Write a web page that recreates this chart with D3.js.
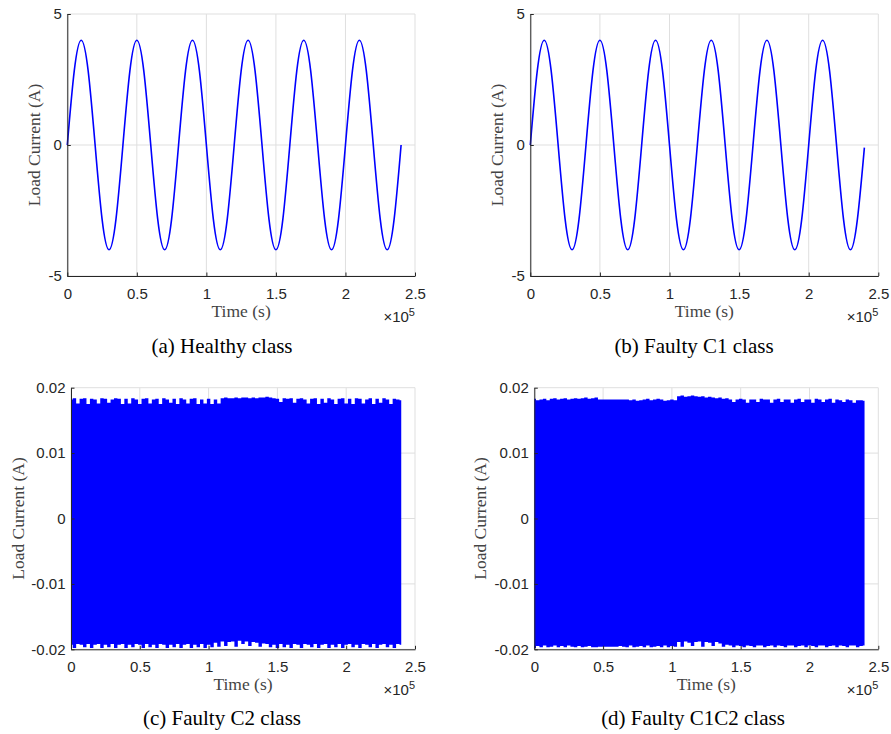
<!DOCTYPE html>
<html>
<head>
<meta charset="utf-8">
<script src="https://cdn.jsdelivr.net/npm/d3@7"></script>
<style>
  body { margin: 0; background: #fff; }
  svg { display: block; }
  .tick text { font-family: "Liberation Sans", Arial, sans-serif; font-size: 15px; fill: #262626; }
  .lbl { font-family: "Liberation Serif", "Times New Roman", serif; font-size: 17.5px; fill: #444; }
  .cap { font-family: "Liberation Serif", "Times New Roman", serif; font-size: 21px; fill: #000; }
</style>
</head>
<body>
<div id="chart"></div>
<script>
// shared axes
const xTicks = [0, 50000, 100000, 150000, 200000, 250000];
const xTickLabels = ["0", "0.5", "1", "1.5", "2", "2.5"];
const yTicksSine = [-5, 0, 5];
const yTickLabelsSine = ["-5", "0", "5"];
const yTicksBand = [-0.02, -0.01, 0, 0.01, 0.02];
const yTickLabelsBand = ["-0.02", "-0.01", "0", "0.01", "0.02"];

// (a), (b): load current sampled every 5000 s
const sineStep = 5000;
const healthy = [0, 2.83, 4, 2.83, 0, -2.83, -4, -2.83,
                 0, 2.83, 4, 2.83, 0, -2.83, -4, -2.83,
                 0, 2.83, 4, 2.83, 0, -2.83, -4, -2.83,
                 0, 2.83, 4, 2.83, 0, -2.83, -4, -2.83,
                 0, 2.83, 4, 2.83, 0, -2.83, -4, -2.83,
                 0, 2.83, 4, 2.83, 0, -2.83, -4, -2.83, 0];
const faultyC1 = [0, 2.83, 4, 2.83, 0, -2.83, -4, -2.83,
                  0, 2.83, 4, 2.83, 0, -2.83, -4, -2.83,
                  0, 2.83, 4, 2.83, 0, -2.83, -4, -2.83,
                  0, 2.83, 4, 2.83, 0, -2.83, -4, -2.83,
                  0, 2.83, 4, 2.83, 0, -2.83, -4, -2.83,
                  0, 2.83, 4, 2.83, 0, -2.83, -4, -2.83, -0.1];

// (c), (d): fast oscillation, upper / lower envelope (mA) every 2500 s
const envStep = 2500;
const c2Upper = [18.2,18.4,17.6,18.3,18.4,17.5,18.3,18.2,17.6,18.4,
  18.3,17.7,18.2,18.4,18.3,17.5,18.3,17.6,18.4,18.2,
  17.5,18.3,18.4,17.6,18.2,18.3,17.5,18.4,18.2,17.7,
  18.3,17.5,18.4,18.2,17.6,18.3,18.4,17.5,18.2,17.6,
  18.3,17.5,18.2,17.6,
  18.4,18.5,18.4,18.4,18.5,18.4,18.5,18.5,18.4,18.5,18.4,18.5,18.5,18.6,18.5,
  18.4,18.3,17.8,18.4,18.3,18.4,17.7,18.3,18.4,18.2,
  17.6,18.3,18.4,17.5,18.3,17.7,18.4,18.2,17.5,18.3,
  18.4,17.6,18.3,17.5,18.4,18.3,17.6,18.2,18.4,17.5,
  18.3,17.7,18.4,18.2,17.5,18.3,18.2,18.1];
const c2Lower = [-19.3,-19.8,-19.2,-19.3,-19.7,-19.2,-19.8,-19.3,-19.2,-19.8,
  -19.3,-19.7,-19.2,-19.8,-19.3,-19.2,-19.8,-19.3,-19.7,-19.2,
  -19.3,-19.8,-19.2,-19.7,-19.3,-19.8,-19.2,-19.3,-19.8,-19.3,
  -19.7,-19.2,-19.8,-19.3,-19.2,-19.8,-19.3,-19.7,-19.2,-19.8,
  -19.3,-19.7,-19.0,-19.6,
  -18.8,-19.5,-18.9,-18.8,-19.6,-18.7,-19.2,-18.8,-19.5,-18.9,-19.0,-19.6,-19.1,-19.2,-19.7,
  -19.3,-19.8,-19.2,-19.7,-19.3,-19.8,-19.2,-19.3,-19.8,-19.2,
  -19.3,-19.7,-19.2,-19.8,-19.3,-19.2,-19.8,-19.3,-19.7,-19.2,
  -19.8,-19.3,-19.2,-19.7,-19.3,-19.8,-19.2,-19.3,-19.7,-19.2,
  -19.8,-19.3,-19.2,-19.7,-19.3,-19.8,-19.2,-19.3];
const c1c2Upper = [18.3,18.1,18.2,18.3,18.1,18.3,18.4,18.2,18.3,18.4,
  18.2,18.3,18.4,18.3,18.4,18.5,18.3,18.4,
  18.5,18.2,18.2,18.2,18.2,18.2,18.2,18.2,18.2,18.2,18.1,
  18.2,18.0,18.1,18.2,18.3,18.1,18.2,18.3,18.2,18.0,18.1,18.2,18.1,
  18.7,18.8,18.6,18.7,18.8,18.7,18.6,18.7,18.5,18.6,18.5,18.4,18.5,18.3,18.4,
  18.2,17.8,18.2,18.3,18.2,17.7,18.2,18.2,17.8,18.3,
  18.2,18.2,17.7,18.2,18.3,17.8,18.2,18.2,17.7,18.2,
  18.3,17.8,18.2,18.2,17.7,18.3,18.2,17.8,18.2,18.3,
  17.7,18.2,18.1,17.8,18.2,18.1,17.7,18.1,18.1,18.0];
const c1c2Lower = [-19.8,-19.5,-19.7,-19.4,-19.7,-19.6,-19.4,-19.7,-19.5,-19.7,
  -19.4,-19.6,-19.7,-19.5,-19.7,-19.6,-19.5,-19.7,-19.7,-19.6,
  -19.6,-19.6,-19.6,-19.6,-19.6,-19.5,-19.6,-19.7,-19.4,-19.7,
  -19.6,-19.5,-19.7,-19.4,-19.7,-19.6,-19.5,-19.7,-19.4,-19.7,
  -19.5,-19.6,
  -18.9,-19.6,-18.8,-19.0,-19.5,-18.9,-18.8,-19.6,-18.9,-19.0,-19.5,-18.9,-19.1,-19.6,-19.3,
  -19.4,-19.7,-19.4,-19.5,-19.7,-19.4,-19.5,-19.7,-19.4,-19.4,
  -19.7,-19.5,-19.4,-19.7,-19.4,-19.5,-19.7,-19.4,-19.4,-19.7,
  -19.5,-19.4,-19.7,-19.4,-19.5,-19.7,-19.4,-19.4,-19.7,-19.5,
  -19.4,-19.7,-19.4,-19.5,-19.7,-19.4,-19.4,-19.7,-19.5,-19.4];

const panels = [
  { box: [67.3, 14, 415, 276], sine: healthy, yDomain: [-5, 5],
    yTicks: yTicksSine, yLabels: yTickLabelsSine, ylabX: 34,
    caption: "(a) Healthy class", capX: 222, capY: 353 },
  { box: [530.3, 14, 878.3, 276], sine: faultyC1, yDomain: [-5, 5],
    yTicks: yTicksSine, yLabels: yTickLabelsSine, ylabX: 497.5,
    caption: "(b) Faulty C1 class", capX: 694, capY: 353 },
  { box: [71, 387.7, 415, 649.3], upper: c2Upper, lower: c2Lower, yDomain: [-0.02, 0.02],
    yTicks: yTicksBand, yLabels: yTickLabelsBand, ylabX: 18,
    caption: "(c) Faulty C2 class", capX: 222, capY: 725 },
  { box: [534.3, 387.7, 878.3, 649.3], upper: c1c2Upper, lower: c1c2Lower, yDomain: [-0.02, 0.02],
    yTicks: yTicksBand, yLabels: yTickLabelsBand, ylabX: 480,
    caption: "(d) Faulty C1C2 class", capX: 693, capY: 725 }
];

const svg = d3.select("#chart").append("svg")
  .attr("width", 891)
  .attr("height", 734);

panels.forEach(p => {
  const [x0, y0, x1, y1] = p.box;
  const w = x1 - x0, h = y1 - y0;
  const x = d3.scaleLinear().domain([0, 250000]).range([0, w]);
  const y = d3.scaleLinear().domain(p.yDomain).range([h, 0]);

  const g = svg.append("g").attr("transform", `translate(${x0},${y0})`);

  // grid
  g.selectAll(".gx").data(xTicks).enter().append("line")
    .attr("x1", d => x(d)).attr("x2", d => x(d))
    .attr("y1", 0).attr("y2", h)
    .attr("stroke", "#dfdfdf").attr("stroke-width", 1);
  g.selectAll(".gy").data(p.yTicks).enter().append("line")
    .attr("x1", 0).attr("x2", w)
    .attr("y1", d => y(d)).attr("y2", d => y(d))
    .attr("stroke", "#dfdfdf").attr("stroke-width", 1);

  if (p.sine) {
    const line = d3.line()
      .x((d, i) => x(i * sineStep))
      .y(d => y(d))
      .curve(d3.curveNatural);
    g.append("path")
      .datum(p.sine)
      .attr("d", line)
      .attr("fill", "none")
      .attr("stroke", "#0000ff")
      .attr("stroke-width", 1.6);
  } else {
    const rows = p.upper.map((u, i) => ({ t: i * envStep, hi: u / 1000, lo: p.lower[i] / 1000 }));
    const area = d3.area()
      .x(d => x(d.t))
      .y0(d => y(d.lo))
      .y1(d => y(d.hi))
      .curve(d3.curveStep);
    g.append("path")
      .datum(rows)
      .attr("d", area)
      .attr("fill", "#0000ff")
      .attr("stroke", "none");
  }

  // axes
  const xAxis = d3.axisBottom(x)
    .tickValues(xTicks)
    .tickFormat((d, i) => xTickLabels[i])
    .tickSizeInner(-3.5).tickSizeOuter(0).tickPadding(12);
  const yAxis = d3.axisLeft(y)
    .tickValues(p.yTicks)
    .tickFormat((d, i) => p.yLabels[i])
    .tickSizeInner(-3.5).tickSizeOuter(0).tickPadding(5.5);

  const gx = g.append("g").attr("transform", `translate(0,${h})`).call(xAxis);
  const gy = g.append("g").call(yAxis);
  [gx, gy].forEach(a => {
    a.select(".domain").attr("stroke", "#262626");
    a.selectAll(".tick line").attr("stroke", "#262626");
    a.selectAll(".tick text").attr("font-family", null).attr("font-size", null);
  });

  g.append("text")
    .attr("class", "lbl")
    .attr("x", w / 2).attr("y", h + 41)
    .attr("text-anchor", "middle")
    .text("Time (s)");

  const ex = g.append("text")
    .attr("x", w).attr("y", h + 46)
    .attr("text-anchor", "end")
    .attr("font-family", "Liberation Sans, Arial, sans-serif")
    .attr("font-size", 15)
    .attr("fill", "#262626");
  ex.append("tspan").text("\u00d710");
  ex.append("tspan").attr("dy", -6).attr("font-size", 11).text("5");

  svg.append("text")
    .attr("class", "lbl")
    .attr("transform", `translate(${p.ylabX},${y0 + h / 2}) rotate(-90)`)
    .attr("text-anchor", "middle")
    .attr("dy", "0.32em")
    .text("Load Current (A)");

  svg.append("text")
    .attr("class", "cap")
    .attr("x", p.capX).attr("y", p.capY)
    .attr("text-anchor", "middle")
    .text(p.caption);
});
</script>
</body>
</html>
